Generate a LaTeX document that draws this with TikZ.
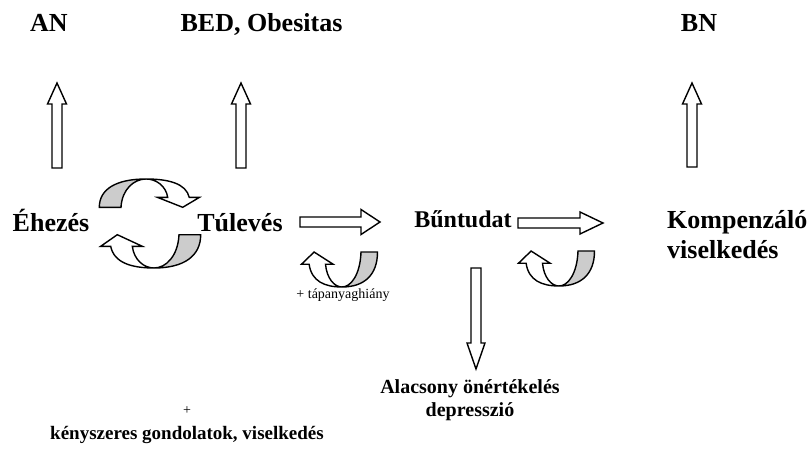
\documentclass[tikz,border=0pt]{standalone}
\usepackage{fontspec}
\setmainfont{Liberation Serif}
\tikzset{
  lbl/.style={font=\fontsize{26}{30}\selectfont\bfseries, inner sep=0pt},
  sublbl/.style={font=\fontsize{20}{24}\selectfont\bfseries, inner sep=0pt},
  kenylbl/.style={font=\fontsize{19}{22}\selectfont\bfseries, inner sep=0pt},
  note/.style={font=\fontsize{14}{17}\selectfont, inner sep=0pt},
  outl/.style={draw=black, line width=1.4pt, line join=miter},
  pics/blockarrow/.style args={#1/#2/#3}{code={
    \draw[outl, fill=white] (0,-5) -- (#1-#2,-5) -- (#1-#2,-#3) -- (#1,0)
      -- (#1-#2,#3) -- (#1-#2,5) -- (0,5) -- cycle;}},
  pics/uturn/.style={code={
    \draw[outl, fill=gray!40] (25,-33.3) .. controls (24,-12) and (12,0) .. (0,0)
      .. controls (30,0) and (46.7,-12) .. (46.7,-33.3) -- cycle;
    \draw[outl, fill=white] (-43.3,-21.7) .. controls (-40,-5) and (-22,0) .. (0,0)
      .. controls (-10,0) and (-20,-8) .. (-21.7,-21.7) -- (-11.7,-21.7)
      -- (-36.7,-33.3) -- (-53.3,-21.7) -- cycle;}}
}
\begin{document}
\begin{tikzpicture}[x=1pt, y=-1pt]
  \useasboundingbox (0,0) rectangle (812,452);

  % top row
  \node[lbl, anchor=base] (an) at (49,32) {AN};
  \node[lbl, anchor=base] (bed) at (261.5,32) {BED, Obesitas};
  \node[lbl, anchor=base] (bn) at (699,32) {BN};

  % middle row
  \node[lbl, anchor=base] (ehez) at (51,231) {Éhezés};
  \node[lbl, anchor=base] (tulev) at (240,231) {Túlevés};
  \node[lbl, anchor=base, font=\fontsize{24}{28}\selectfont\bfseries] (bunt) at (463,227) {Bűntudat};
  \node[lbl, anchor=base west] (komp) at (667,228) {Kompenzáló};
  \node[lbl, anchor=base west] (visel) at (667,258) {viselkedés};

  % lower texts
  \node[note, anchor=base] (tapa) at (343,298) {+ tápanyaghiány};
  \node[sublbl, anchor=base] (alacs) at (470,393) {Alacsony önértékelés};
  \node[sublbl, anchor=base] (depr) at (470,416) {depresszió};
  \node[note, anchor=base] (plus) at (187,414) {+};
  \node[kenylbl, anchor=base] (kenysz) at (187,439) {kényszeres gondolatok, viselkedés};

  % block arrows
  \coordinate (an-s) at (57,168);
  \coordinate (bed-s) at (241,168);
  \coordinate (bn-s) at (692,167);
  \coordinate (tulev-e) at (300,222);
  \coordinate (bunt-e) at (518,223);
  \coordinate (bunt-s) at (476,268);
  \pic[rotate=90] at (an-s) {blockarrow=85/21/9.5};
  \pic[rotate=90] at (bed-s) {blockarrow=85/21/9.5};
  \pic[rotate=90] at (bn-s) {blockarrow=84/21/9.5};
  \pic at (tulev-e) {blockarrow=80/19/12.5};
  \pic at (bunt-e) {blockarrow=85/23/11};
  \pic[rotate=-90] at (bunt-s) {blockarrow=101/26/9};

  % cycles
  \pic[rotate=180, yscale=.85] at (146,179) {uturn};
  \pic at (154,268) {uturn};
  \pic[xscale=.76, yscale=1.05] at (342,287) {uturn};
  \pic[xscale=.76, yscale=1.05] at (559,286) {uturn};
\end{tikzpicture}
\end{document}
